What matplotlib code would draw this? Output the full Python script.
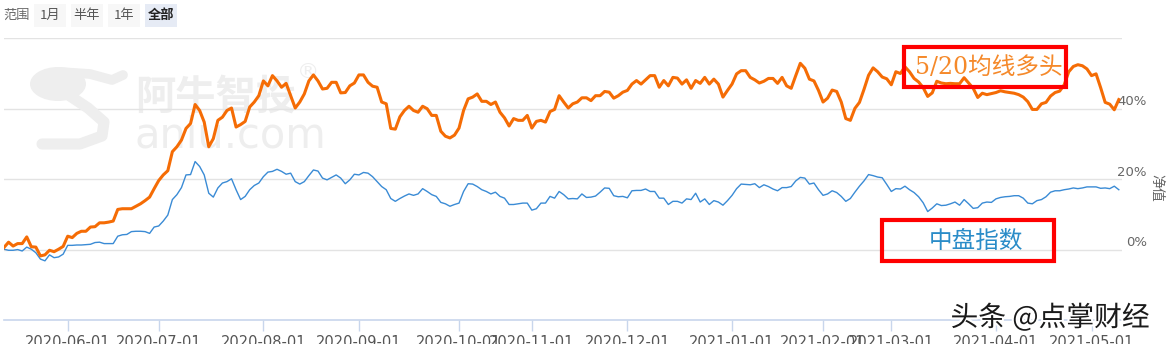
import numpy as np
import pandas as pd
import matplotlib
matplotlib.use("Agg")
import matplotlib.pyplot as plt
import matplotlib.patheffects as pe
from matplotlib.patches import Rectangle, Ellipse
from matplotlib.transforms import blended_transform_factory

plt.rcParams['font.family'] = ['DejaVu Sans', 'Noto Sans CJK SC']

# trading days (China A-share calendar)
holidays = ['2020-06-25', '2020-06-26', '2020-10-01', '2020-10-02', '2020-10-05',
            '2020-10-06', '2020-10-07', '2020-10-08', '2021-01-01', '2021-02-11',
            '2021-02-12', '2021-02-15', '2021-02-16', '2021-02-17', '2021-04-05',
            '2021-05-03', '2021-05-04', '2021-05-05']
dates = pd.bdate_range('2020-05-12', '2021-05-14').drop(pd.to_datetime(holidays))

# 5/20 MA long strategy, cumulative return %
strategy = [
    0.6, 2.1, 1.0, 1.7, 1.7, 3.6, 0.8, 0.7, -1.8, -1.5,
    -0.2, -0.6, 0.1, 0.9, 3.8, 3.4, 4.6, 5.2, 5.2, 6.4,
    6.5, 7.6, 7.6, 7.8, 8.1, 11.4, 11.6, 11.6, 11.6, 12.3,
    13.0, 13.9, 14.9, 17.3, 19.6, 21.2, 22.4, 27.8, 29.2, 31.1,
    34.4, 35.8, 41.2, 39.5, 36.2, 29.2, 31.5, 36.7, 37.6, 39.5,
    40.2, 34.8, 35.5, 36.4, 40.5, 41.9, 43.7, 47.9, 46.5, 49.4,
    47.9, 46.1, 47.2, 43.7, 40.2, 41.9, 44.2, 47.9, 49.6, 47.9,
    45.6, 45.8, 47.5, 47.5, 44.5, 44.6, 46.5, 47.3, 49.6, 49.6,
    47.5, 46.4, 46.1, 41.9, 41.4, 34.4, 34.2, 37.7, 39.5, 40.7,
    39.5, 39.0, 40.7, 40.0, 38.1, 38.1, 33.6, 32.2, 31.7, 32.5,
    34.5, 39.5, 42.8, 43.3, 44.2, 42.1, 42.1, 41.2, 41.9, 39.0,
    37.4, 35.1, 37.2, 36.7, 36.7, 38.1, 34.5, 36.4, 36.7, 36.2,
    39.2, 39.8, 43.7, 41.9, 40.2, 41.4, 41.9, 43.1, 43.1, 42.3,
    43.7, 43.7, 44.9, 44.7, 43.0, 43.7, 44.7, 45.2, 47.0, 48.0,
    47.0, 48.2, 49.4, 49.4, 46.1, 48.0, 46.5, 48.9, 48.7, 47.0,
    48.2, 45.8, 48.0, 47.2, 48.9, 47.0, 48.4, 47.0, 43.3, 45.2,
    47.0, 49.9, 50.8, 50.8, 48.9, 48.2, 47.3, 47.8, 48.6, 48.6,
    47.2, 48.9, 46.5, 45.8, 49.4, 52.9, 51.5, 48.4, 47.9, 45.2,
    41.9, 43.0, 45.3, 44.9, 41.9, 37.2, 36.7, 40.1, 41.8, 45.5,
    49.5, 51.6, 50.5, 49.0, 48.5, 46.8, 50.5, 50.0, 51.9, 50.5,
    48.6, 47.6, 46.0, 43.5, 44.5, 47.8, 47.3, 47.1, 47.2, 47.1,
    47.1, 48.8, 47.3, 45.8, 43.2, 44.4, 44.0, 44.3, 44.6, 45.1,
    44.8, 44.6, 44.4, 44.0, 43.3, 42.0, 39.8, 39.8, 41.4, 41.8,
    43.6, 44.6, 45.0, 46.8, 50.5, 52.0, 52.5, 52.2, 51.3, 49.4,
    49.9, 46.0, 41.8, 41.3, 39.7, 42.6,
]

# mid-cap index, cumulative return %
index = [
    0.1, -0.2, -0.2, 0.0, -0.4, 0.7, 0.1, -0.9, -2.7, -3.2,
    -1.5, -2.3, -2.1, -1.3, 1.2, 1.2, 1.3, 1.3, 1.4, 1.5,
    2.0, 2.1, 1.7, 1.7, 1.7, 3.8, 4.2, 4.3, 5.1, 5.2,
    5.2, 5.1, 4.6, 6.4, 6.7, 8.1, 9.8, 14.2, 15.6, 17.6,
    21.2, 21.3, 25.0, 23.6, 21.2, 16.0, 14.9, 17.5, 18.9, 19.3,
    20.1, 17.0, 14.2, 15.1, 17.0, 18.2, 18.9, 20.7, 22.0, 22.2,
    22.8, 22.2, 21.4, 21.7, 19.3, 18.6, 19.3, 21.0, 22.6, 22.3,
    20.3, 19.8, 20.5, 21.2, 20.3, 18.7, 19.8, 21.4, 21.2, 21.9,
    21.7, 20.7, 19.3, 17.9, 17.0, 14.5, 13.7, 14.5, 15.2, 15.8,
    15.4, 15.8, 17.3, 16.5, 15.6, 15.1, 13.4, 13.0, 12.3, 12.8,
    13.2, 16.5, 18.7, 18.6, 17.9, 17.0, 16.5, 15.8, 16.3, 15.1,
    14.6, 12.8, 12.8, 13.0, 13.2, 13.2, 11.2, 11.6, 13.2, 13.2,
    15.1, 14.6, 16.5, 15.6, 14.4, 14.5, 14.4, 15.8, 14.8, 14.9,
    15.2, 16.3, 17.5, 17.4, 15.3, 15.0, 15.1, 14.7, 16.7, 16.8,
    16.8, 17.2, 16.5, 16.5, 14.6, 14.6, 12.8, 13.7, 13.7, 13.2,
    14.4, 14.2, 16.0, 13.5, 14.4, 12.8, 13.9, 13.5, 12.6, 13.9,
    15.4, 17.3, 18.6, 18.5, 18.4, 18.7, 17.6, 18.4, 17.9, 17.2,
    16.7, 17.6, 17.6, 17.9, 19.5, 20.5, 20.3, 18.6, 18.9, 17.0,
    15.4, 15.8, 16.7, 16.2, 15.1, 13.7, 14.5, 16.3, 18.0, 19.5,
    21.3, 21.0, 20.6, 20.4, 18.5, 16.5, 17.3, 17.2, 18.0, 17.0,
    16.2, 15.0, 13.3, 10.8, 11.8, 13.0, 12.5, 12.6, 13.0, 13.5,
    12.6, 14.2, 13.0, 11.7, 11.9, 13.2, 13.5, 13.4, 14.4, 14.8,
    15.0, 15.1, 15.3, 15.3, 14.6, 13.2, 13.0, 13.9, 14.2, 15.0,
    16.3, 16.7, 16.7, 17.0, 17.2, 17.5, 17.3, 17.5, 17.8, 17.8,
    17.8, 17.4, 17.5, 17.3, 18.0, 17.0,
]

y_levels = [0, 20, 40]
range_buttons = ['1月', '半年', '1年', '全部']

W, H = 1167, 344
fig = plt.figure(figsize=(W / 100, H / 100), dpi=100)


def fx(x):
    return x / W


def fy(y):
    return 1 - y / H


ax = fig.add_axes([fx(4), fy(320), fx(1118), (320 - 38.3) / H])
n = min(len(dates), len(strategy), len(index))
xs = np.arange(n)

for lv in [0, 20, 40, 60]:
    ax.axhline(lv, color='#e3e3e3', lw=1.0, zorder=1)

# watermark logo + text
wm = '#eeeeee'
fig.patches.append(Ellipse((fx(58), fy(84)), fx(56), 34 / H, transform=fig.transFigure,
                           facecolor=wm, edgecolor='none', zorder=0))
fig.lines.append(plt.Line2D([fx(v) for v in [60, 90, 112, 123]],
                            [fy(v) for v in [72, 74, 80, 75]],
                            transform=fig.transFigure, color=wm, lw=7,
                            solid_capstyle='round', zorder=0))
fig.lines.append(plt.Line2D([fx(v) for v in [70, 88, 104, 102, 80, 42]],
                            [fy(v) for v in [96, 108, 122, 136, 144, 144]],
                            transform=fig.transFigure, color=wm, lw=8,
                            solid_capstyle='round', zorder=0))
ax.text(0.117, 0.79, '阿牛智投', transform=ax.transAxes, fontsize=29,
        color=wm, family=['Noto Sans CJK SC'], fontweight='bold',
        ha='left', va='center', zorder=0)
ax.text(0.262, 0.88, '®', transform=ax.transAxes, fontsize=16,
        color=wm, ha='left', va='center', zorder=0)
ax.text(0.117, 0.655, 'aniu.com', transform=ax.transAxes, fontsize=30,
        color=wm, ha='left', va='center', zorder=0)

ax.plot(xs, index[:n], color='#3a8bd5', lw=1.0, zorder=3)
ax.plot(xs, strategy[:n], color='#f56c05', lw=2.2, zorder=4)

ax.set_xlim(0, 245.7)
ax.set_ylim(-20, 60)
ax.patch.set_alpha(0)

# month ticks at first trading day of each month
d = dates[:n]
tick_idx = [i for i in range(1, n) if d[i].month != d[i - 1].month]
tick_lab = [f'{d[i].year}-{d[i].month:02d}-01' for i in tick_idx]
ax.set_xticks(tick_idx)
ax.set_xticklabels(tick_lab)
ax.tick_params(axis='x', direction='out', length=8, width=1, color='#c8d6ec',
               labelcolor='#555555', labelsize=10.5, pad=3)
ax.set_yticks([])
for s in ['top', 'left', 'right']:
    ax.spines[s].set_visible(False)
ax.spines['bottom'].set_color('#c8d6ec')
ax.spines['bottom'].set_linewidth(1.2)

# right side percentage labels
tr = blended_transform_factory(fig.transFigure, ax.transData)
for lv in y_levels:
    ax.text(fx(1147), lv + 2.0, f'{lv}%', transform=tr, ha='right', va='center',
            fontsize=9.5, color='#666666', clip_on=False)
ax.text(fx(1156), 17.5, '净值', transform=tr, ha='center', va='center',
        rotation=-90, fontsize=10, color='#666666', family=['Noto Sans CJK SC'],
        clip_on=False)

# top range selector
fig.text(fx(3), fy(15), '范围', fontsize=9.5, color='#666666',
         family=['Noto Sans CJK SC'], va='center', ha='left')
box_x = [34, 71, 108, 145]
for bx, lab in zip(box_x, range_buttons):
    active = lab == '全部'
    fig.patches.append(Rectangle((fx(bx), fy(27)), fx(32), 23 / H,
                                 transform=fig.transFigure,
                                 facecolor='#e6ebf5' if active else '#f7f7f7',
                                 edgecolor='none'))
    fig.text(fx(bx + 16), fy(15), lab, fontsize=9.5,
             color='#222222' if active else '#555555',
             fontweight='bold' if active else 'normal',
             family=['Noto Sans CJK SC'], ha='center', va='center')

# red annotation boxes
fig.patches.append(Rectangle((fx(904), fy(87)), fx(162), 40 / H,
                             transform=fig.transFigure, fill=False,
                             edgecolor='#ff0000', lw=3))
fig.text(fx(989), fy(67), '5/20均线多头', fontsize=17, color='#f5892a',
         family=['DejaVu Serif', 'Noto Sans CJK SC'], fontweight='light',
         ha='center', va='center')
fig.patches.append(Rectangle((fx(882), fy(261)), fx(172), 41 / H,
                             transform=fig.transFigure, fill=False,
                             edgecolor='#ff0000', lw=3))
fig.text(fx(976), fy(241), '中盘指数', fontsize=17, color='#2a8cc8',
         family=['Noto Sans CJK SC'], fontweight='light',
         ha='center', va='center')

# source watermark
fig.text(fx(1050), fy(318), '头条 @点掌财经', fontsize=20, color='#1a1a1a',
         family=['Noto Sans CJK SC', 'DejaVu Sans'], ha='center', va='center',
         path_effects=[pe.withStroke(linewidth=3, foreground='white')])

fig.savefig('out.png', dpi=100, facecolor='white')
